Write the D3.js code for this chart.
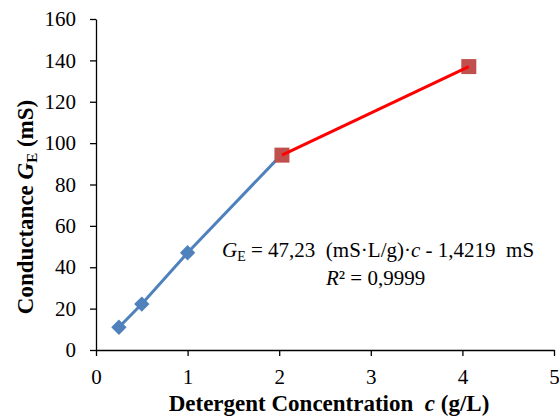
<!DOCTYPE html>
<html>
<head>
<meta charset="utf-8">
<script src="https://cdn.jsdelivr.net/npm/d3@7"></script>
<style>
  body { margin: 0; background: #fff; }
</style>
</head>
<body>
<script>
// data
const blueX = [0.25, 0.5, 1.0, 2.02];
const blueY = [11, 22.2, 47, 94.2];
const redX = [2.03, 4.07];
const redY = [94.2, 137];
const xTicks = [0, 1, 2, 3, 4, 5];
const yTicks = [0, 20, 40, 60, 80, 100, 120, 140, 160];

const SERIF = "'Liberation Serif'";
const width = 559, height = 418;
const margin = {top: 19, right: 5, bottom: 68, left: 96};

const svg = d3.select("body").append("svg")
  .attr("width", width)
  .attr("height", height);

const xScale = d3.scaleLinear().domain([0, 5]).range([margin.left, width - margin.right]);
const yScale = d3.scaleLinear().domain([0, 160]).range([height - margin.bottom, margin.top]);

// axes
const xAxis = svg.append("g")
  .attr("transform", "translate(0," + yScale(0) + ")")
  .call(d3.axisBottom(xScale).tickValues(xTicks).tickFormat(d3.format("d")).tickSize(6).tickSizeOuter(0));
const yAxis = svg.append("g")
  .attr("transform", "translate(" + xScale(0) + ",0)")
  .call(d3.axisLeft(yScale).tickValues(yTicks).tickSize(6).tickSizeOuter(0));

[xAxis, yAxis].forEach(a => {
  a.attr("font-family", null);
  a.select(".domain").attr("stroke", "#000").attr("stroke-width", 1.3);
  a.selectAll(".tick line").attr("stroke", "#000").attr("stroke-width", 1.3);
  a.selectAll(".tick text")
    .style("font-family", SERIF)
    .attr("font-size", 21)
    .attr("fill", "#000");
});
xAxis.selectAll(".tick text").attr("dy", "1.2em");
yAxis.selectAll(".tick text").attr("x", -20);

const line = d3.line()
  .x(d => xScale(d[0]))
  .y(d => yScale(d[1]));

const blue = blueX.map((x, i) => [x, blueY[i]]);
const red = redX.map((x, i) => [x, redY[i]]);

svg.append("path")
  .datum(blue)
  .attr("fill", "none")
  .attr("stroke", "#4f81bd")
  .attr("stroke-width", 3)
  .attr("d", line);

svg.selectAll(".diamond")
  .data(blue.slice(0, 3))
  .enter().append("path")
  .attr("class", "diamond")
  .attr("transform", d => "translate(" + xScale(d[0]) + "," + yScale(d[1]) + ")")
  .attr("d", d3.symbol().type(d3.symbolDiamond2).size(150))
  .attr("fill", "#4f81bd");

svg.selectAll(".sq")
  .data(red)
  .enter().append("rect")
  .attr("class", "sq")
  .attr("x", d => xScale(d[0]) - 7.5)
  .attr("y", d => yScale(d[1]) - 7.5)
  .attr("width", 15)
  .attr("height", 15)
  .attr("fill", "#c0504d");

svg.append("path")
  .datum(red)
  .attr("fill", "none")
  .attr("stroke", "#ff0000")
  .attr("stroke-width", 3)
  .attr("d", line);

// equation
const eq = svg.append("text")
  .attr("x", 222)
  .attr("y", 257)
  .attr("font-size", 21)
  .style("font-family", SERIF)
  .style("white-space", "pre");
eq.append("tspan").attr("font-style", "italic").text("G");
eq.append("tspan").attr("font-size", 14).attr("dy", 4).text("E");
eq.append("tspan").attr("dy", -4).text(" = 47,23  (mS·L/g)·");
eq.append("tspan").attr("font-style", "italic").text("c");
eq.append("tspan").text(" - 1,4219  mS");

const r2 = svg.append("text")
  .attr("x", 326)
  .attr("y", 285)
  .attr("font-size", 21)
  .style("font-family", SERIF);
r2.append("tspan").attr("font-style", "italic").text("R");
r2.append("tspan").text("² = 0,9999");

// axis titles
const xt = svg.append("text")
  .attr("x", 329)
  .attr("y", 411)
  .attr("text-anchor", "middle")
  .attr("font-size", 23)
  .attr("font-weight", "bold")
  .style("font-family", SERIF)
  .style("white-space", "pre");
xt.append("tspan").text("Detergent Concentration  ");
xt.append("tspan").attr("font-style", "italic").text("c");
xt.append("tspan").text(" (g/L)");

const yt = svg.append("text")
  .attr("transform", "translate(33,207) rotate(-90)")
  .attr("text-anchor", "middle")
  .attr("font-size", 23)
  .attr("font-weight", "bold")
  .style("font-family", SERIF);
yt.append("tspan").text("Conductance ");
yt.append("tspan").attr("font-style", "italic").text("G");
yt.append("tspan").attr("font-size", 15).attr("dy", 4).text("E");
yt.append("tspan").attr("dy", -4).text(" (mS)");
</script>
</body>
</html>
